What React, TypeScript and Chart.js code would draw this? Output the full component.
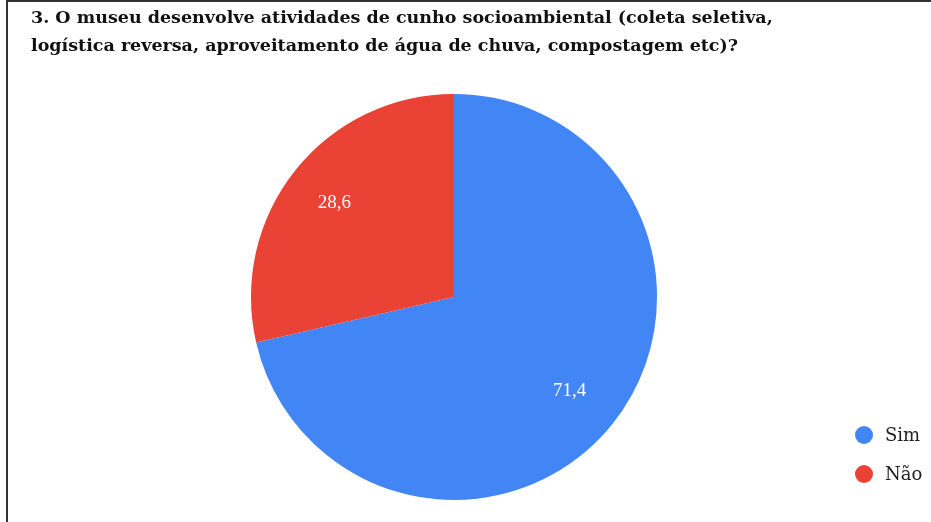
import React, { useEffect, useRef } from "react";
import { Chart, registerables } from "chart.js";

Chart.register(...registerables);

const titleLines = [
  "3. O museu desenvolve atividades de cunho socioambiental (coleta seletiva,",
  "logística reversa, aproveitamento de água de chuva, compostagem etc)?",
];
const categories = ["Sim", "Não"];
const values = [71.4, 28.6];
const colors = ["#4285F4", "#EA4335"];

const sliceLabels = {
  id: "sliceLabels",
  afterDatasetsDraw(chart: any) {
    const ctx = chart.ctx;
    const meta = chart.getDatasetMeta(0);
    ctx.save();
    ctx.fillStyle = "#ffffff";
    ctx.font = "19px 'Liberation Serif'";
    ctx.textAlign = "center";
    ctx.textBaseline = "middle";
    meta.data.forEach((arc: any, i: number) => {
      const p = arc.getProps(["x", "y", "startAngle", "endAngle", "outerRadius"], true);
      const mid = (p.startAngle + p.endAngle) / 2;
      const r = p.outerRadius * 0.74;
      const txt = values[i].toFixed(1).replace(".", ",");
      ctx.fillText(txt, p.x + Math.cos(mid) * r - 2, p.y + Math.sin(mid) * r);
    });
    ctx.restore();
  },
};

const sideLegend = {
  id: "sideLegend",
  afterDraw(chart: any) {
    const ctx = chart.ctx;
    ctx.save();
    ctx.font = "18px 'DejaVu Serif'";
    ctx.textBaseline = "middle";
    ctx.textAlign = "left";
    const x0 = chart.width - 67;
    const y0 = 435;
    categories.forEach((c, i) => {
      const y = y0 + i * 39;
      ctx.fillStyle = colors[i];
      ctx.beginPath();
      ctx.arc(x0, y, 9, 0, Math.PI * 2);
      ctx.fill();
      ctx.fillStyle = "#222222";
      ctx.fillText(c, x0 + 21, y + 1);
    });
    ctx.restore();
  },
};

export default function App() {
  const ref = useRef<HTMLCanvasElement>(null);
  useEffect(() => {
    document.body.style.margin = "0";
    const chart = new Chart(ref.current!, {
      type: "pie",
      data: {
        labels: categories,
        datasets: [
          {
            data: values,
            backgroundColor: colors,
            borderWidth: 0,
          },
        ],
      },
      options: {
        responsive: false,
        animation: false,
        layout: { padding: { left: 31, right: 54, top: 0, bottom: 22 } },
        plugins: {
          legend: { display: false },
          tooltip: { enabled: false },
          title: {
            display: true,
            text: titleLines,
            align: "start",
            color: "#111111",
            font: { family: "'DejaVu Serif'", weight: "bold", size: 17.5, lineHeight: 1.57 },
            padding: { top: 5, bottom: 34 },
          },
        },
      },
      plugins: [sliceLabels, sideLegend],
    });
    return () => chart.destroy();
  }, []);
  return (
    <div style={{ position: "relative", width: 931, height: 522, overflow: "hidden", background: "#fff" }}>
      <canvas ref={ref} width={931} height={522} style={{ position: "absolute", left: 0, top: 0 }} />
      <div
        style={{
          position: "absolute",
          left: 6,
          top: 0,
          width: 1000,
          height: 600,
          borderLeft: "2px solid #333",
          borderTop: "2px solid #333",
          pointerEvents: "none",
        }}
      />
    </div>
  );
}
